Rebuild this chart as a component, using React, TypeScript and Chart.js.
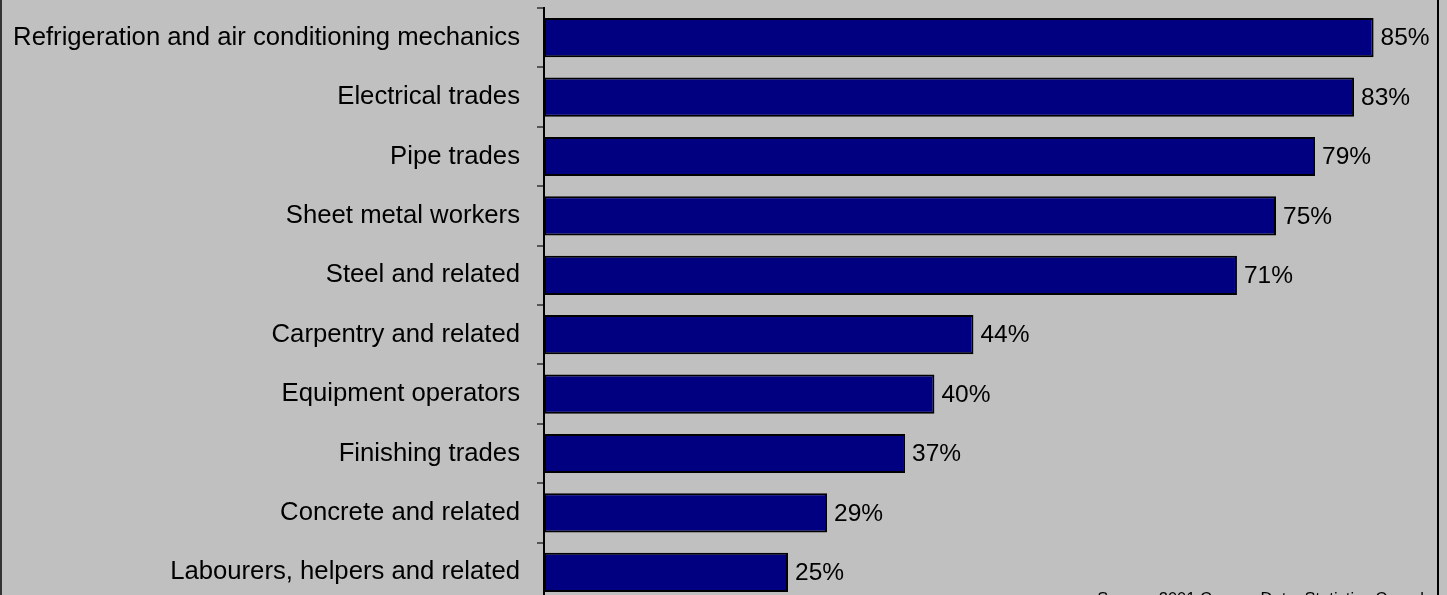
import React, { useEffect, useRef } from "react";
import { Chart, registerables } from "chart.js";

Chart.register(...registerables);

const categories: string[] = [
  "Refrigeration and air conditioning mechanics",
  "Electrical trades",
  "Pipe trades",
  "Sheet metal workers",
  "Steel and related",
  "Carpentry and related",
  "Equipment operators",
  "Finishing trades",
  "Concrete and related",
  "Labourers, helpers and related",
];

const values: number[] = [85, 83, 79, 75, 71, 44, 40, 37, 29, 25];

const sourceText = "Source: 2001 Census Data, Statistics Canada";

const FONT = "'Liberation Sans', Arial, sans-serif";

const bgPlugin = {
  id: "bgFill",
  beforeDraw(chart: any) {
    const { ctx, width, height } = chart;
    ctx.save();
    ctx.fillStyle = "#C0C0C0";
    ctx.fillRect(0, 0, width, height);
    ctx.restore();
  },
  afterDraw(chart: any) {
    const { ctx, height } = chart;
    ctx.save();
    // frame lines
    ctx.strokeStyle = "#333333";
    ctx.lineWidth = 2;
    ctx.beginPath();
    ctx.moveTo(1, 0);
    ctx.lineTo(1, height);
    ctx.stroke();
    ctx.strokeStyle = "#000000";
    ctx.beginPath();
    ctx.moveTo(1438, 0);
    ctx.lineTo(1438, height);
    ctx.stroke();
    // value labels
    const meta = chart.getDatasetMeta(0);
    ctx.fillStyle = "#000";
    ctx.font = `24.5px ${FONT}`;
    ctx.textAlign = "left";
    ctx.textBaseline = "middle";
    meta.data.forEach((bar: any, i: number) => {
      ctx.fillText(`${values[i]}%`, bar.x + 7, bar.y + 1);
    });
    // source
    ctx.font = `16.5px ${FONT}`;
    ctx.textAlign = "right";
    ctx.textBaseline = "top";
    ctx.fillText(sourceText, 1433, 591);
    ctx.restore();
  },
};

export default function App() {
  const ref = useRef<HTMLCanvasElement | null>(null);

  useEffect(() => {
    if (!ref.current) return;
    const chart = new Chart(ref.current, {
      type: "bar",
      data: {
        labels: categories,
        datasets: [
          {
            data: values,
            backgroundColor: "#000080",
            borderColor: "#000000",
            borderWidth: 2,
            borderSkipped: false,
            barPercentage: 0.66,
            categoryPercentage: 1,
          },
        ],
      },
      options: {
        indexAxis: "y",
        responsive: false,
        animation: false,
        maintainAspectRatio: false,
        layout: { padding: { top: 8, bottom: 38, left: 0, right: 0 } },
        plugins: {
          legend: { display: false },
          tooltip: { enabled: false },
          title: { display: false },
        },
        scales: {
          x: {
            display: false,
            min: 0,
            max: 100,
          },
          y: {
            afterFit(scale: any) {
              scale.width = 544;
              scale.paddingTop = 0;
              scale.paddingBottom = 0;
            },
            border: { display: true, color: "#000000", width: 2 },
            grid: {
              drawOnChartArea: false,
              drawTicks: true,
              tickLength: 7,
              offset: true,
              color: "#555555",
              lineWidth: 2,
            },
            ticks: {
              color: "#000000",
              padding: 17,
              font: { family: FONT, size: 25.7 },
              autoSkip: false,
            },
          },
        },
      },
      plugins: [bgPlugin],
    });
    return () => chart.destroy();
  }, []);

  return (
    <div
      style={{
        position: "absolute",
        left: 0,
        top: 0,
        width: 1447,
        height: 595,
        overflow: "hidden",
        background: "#C0C0C0",
      }}
    >
      <canvas ref={ref} width={1520} height={640} style={{ display: "block" }} />
    </div>
  );
}
